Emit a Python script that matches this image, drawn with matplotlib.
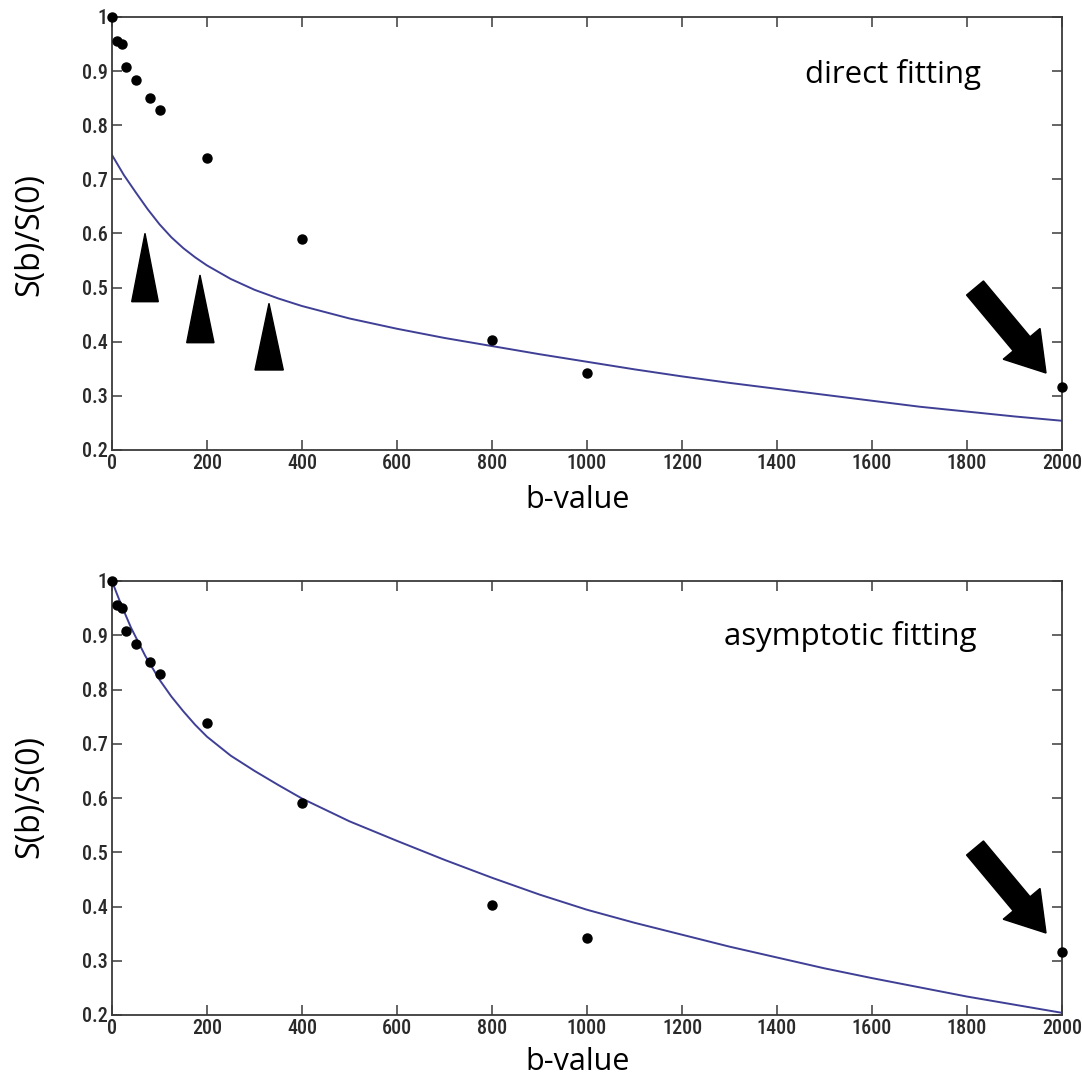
import matplotlib
matplotlib.use("Agg")
import matplotlib.pyplot as plt
import matplotlib.patches as mpatches
from matplotlib import font_manager

# ---------------- data ----------------
b_values = [0, 10, 20, 30, 50, 80, 100, 200, 400, 800, 1000, 2000]
signal = [1.000, 0.956, 0.950, 0.908, 0.883, 0.850, 0.828, 0.739, 0.590, 0.403, 0.342, 0.316]

direct_b = [0, 25, 50, 75, 100, 125, 150, 175, 200, 250, 300, 350, 400, 500, 600, 700,
            800, 900, 1000, 1100, 1200, 1300, 1400, 1500, 1600, 1700, 1800, 1900, 2000]
direct_fit = [0.745, 0.708, 0.676, 0.645, 0.617, 0.593, 0.573, 0.556, 0.541, 0.516,
              0.496, 0.480, 0.466, 0.443, 0.424, 0.407, 0.392, 0.377, 0.363, 0.349,
              0.336, 0.324, 0.313, 0.302, 0.291, 0.280, 0.271, 0.262, 0.254]

asym_b = [0, 10, 20, 40, 70, 100, 125, 150, 175, 200, 250, 300, 350, 400, 500, 600,
          700, 800, 900, 1000, 1100, 1200, 1300, 1400, 1500, 1600, 1700, 1800, 1900, 2000]
asym_fit = [1.000, 0.977, 0.955, 0.914, 0.862, 0.818, 0.787, 0.760, 0.735, 0.713,
            0.678, 0.650, 0.624, 0.599, 0.557, 0.521, 0.486, 0.453, 0.422, 0.394,
            0.370, 0.348, 0.326, 0.306, 0.286, 0.268, 0.251, 0.234, 0.219, 0.204]

x_ticks = [0, 200, 400, 600, 800, 1000, 1200, 1400, 1600, 1800, 2000]
y_ticks = [0.2, 0.3, 0.4, 0.5, 0.6, 0.7, 0.8, 0.9, 1.0]
y_ticklabels = ["0.2", "0.3", "0.4", "0.5", "0.6", "0.7", "0.8", "0.9", "1"]

titles = ["direct fitting", "asymptotic fitting"]
x_label = "b-value"
y_label = "S(b)/S(0)"

# ---------------- style ----------------
W = H = 1082
fig = plt.figure(figsize=(10.82, 10.82), dpi=100)
fig.patch.set_facecolor("white")

avail = {f.name for f in font_manager.fontManager.ttflist}
tick_font, tick_stretch = "DejaVu Sans", "condensed"
for cand in ["Liberation Sans Narrow", "Roboto Condensed", "Open Sans Condensed"]:
    if cand in avail:
        tick_font, tick_stretch = cand, "normal"
        break
label_font = "Open Sans"

line_color = "#3f3f96"
frame_color = "#3a3a3a"


def fx(px):
    return px / W


def fy(py):
    return 1 - py / H


axes_specs = [
    # left, top, right, bottom in pixels
    (112, 17, 1062, 450),
    (112, 581, 1062, 1015),
]
fits = [(direct_b, direct_fit), (asym_b, asym_fit)]
title_pos = [(893, 75), (850, 636)]
xlabel_y = [500, 1062]
ylabel_y = [235, 797]

for i, (l, t, r, btm) in enumerate(axes_specs):
    ax = fig.add_axes([fx(l), fy(btm), fx(r) - fx(l), fy(t) - fy(btm)])
    ax.set_xlim(0, 2000)
    ax.set_ylim(0.2, 1.0)
    fb, fv = fits[i]
    ax.plot(fb, fv, color=line_color, lw=1.4, zorder=2, solid_joinstyle="round")
    ax.plot(b_values, signal, "o", color="black", ms=6.5, zorder=3, clip_on=False)
    ax.set_xticks(x_ticks)
    ax.set_xticklabels([str(v) for v in x_ticks])
    ax.set_yticks(y_ticks)
    ax.set_yticklabels(y_ticklabels)
    ax.tick_params(direction="in", length=7, width=1.1, color=frame_color,
                   top=True, right=True, labelsize=14.5, labelcolor="#2a2a2a", pad=3)
    for lab in ax.get_xticklabels() + ax.get_yticklabels():
        lab.set_fontfamily(tick_font)
        lab.set_fontstretch(tick_stretch)
        lab.set_fontweight("medium")
    for s in ax.spines.values():
        s.set_color(frame_color)
        s.set_linewidth(1.3)

    tx, ty = title_pos[i]
    fig.text(fx(tx), fy(ty), titles[i], ha="center", va="center",
             fontsize=22.5, family=label_font, color="black")
    fig.text(fx(578), fy(xlabel_y[i]), x_label, ha="center", va="center",
             fontsize=22, family=label_font, color="black")
    fig.text(fx(30), fy(ylabel_y[i]), y_label, ha="center", va="center",
             rotation=90, fontsize=23, family=label_font, color="black")

# ---------------- annotations (arrows & triangles) ----------------
def big_arrow(x0, y0, x1, y1):
    arr = mpatches.FancyArrow(fx(x0), fy(y0), fx(x1) - fx(x0), fy(y1) - fy(y0),
                              width=22 / W, head_width=48 / W, head_length=38 / W,
                              length_includes_head=True, transform=fig.transFigure,
                              color="black", zorder=10)
    fig.add_artist(arr)


big_arrow(975, 288, 1046, 373)
big_arrow(975, 848, 1046, 933)

triangles = [
    ((131.7, 301.7), (158.3, 301.7), (145, 233.3)),
    ((186.7, 342.7), (214, 342.7), (200, 275)),
    ((255, 370), (283.3, 370), (269, 303.3)),
]
for tri in triangles:
    poly = mpatches.Polygon([(fx(x), fy(y)) for x, y in tri], closed=True,
                            transform=fig.transFigure, color="black", zorder=10)
    fig.add_artist(poly)

fig.savefig("out.png", dpi=100, facecolor="white")
